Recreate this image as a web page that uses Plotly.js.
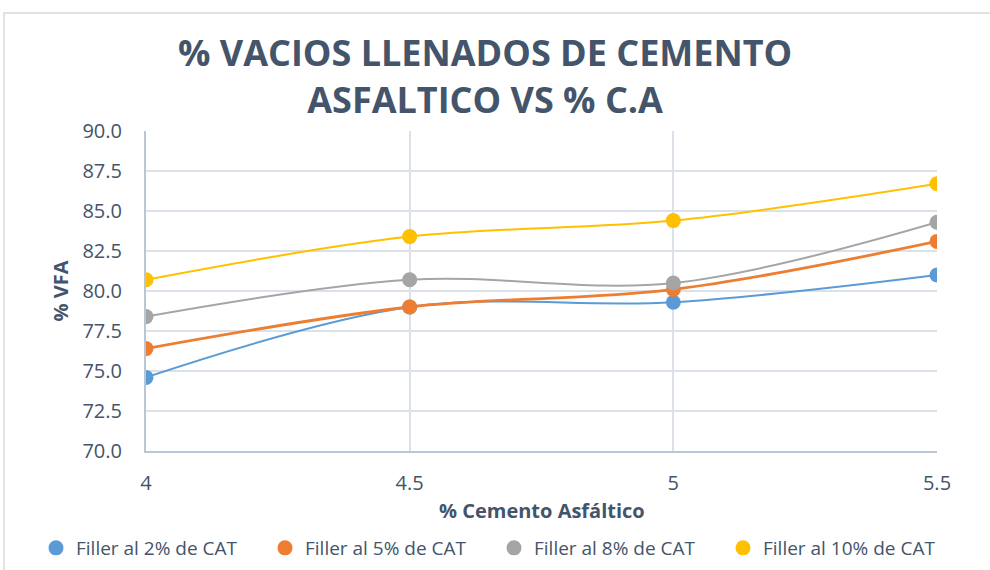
<!DOCTYPE html>
<html><head><meta charset="utf-8">
<script src="https://cdn.plot.ly/plotly-3.0.1.min.js"></script>
<style>html,body{margin:0;padding:0;background:#fff;}#chart{width:990px;height:570px;}</style>
</head><body><div id="chart"></div>
<script>
const xValues = [4, 4.5, 5, 5.5];
const seriesNames = ["Filler al 2% de CAT", "Filler al 5% de CAT", "Filler al 8% de CAT", "Filler al 10% de CAT"];
const filler2 = [74.6, 79.0, 79.3, 81.0];
const filler5 = [76.4, 79.0, 80.1, 83.1];
const filler8 = [78.4, 80.7, 80.5, 84.3];
const filler10 = [80.7, 83.4, 84.4, 86.7];
const seriesColors = ["#5B9BD5", "#ED7D31", "#A5A5A5", "#FFC000"];
const yTicks = [70, 72.5, 75, 77.5, 80, 82.5, 85, 87.5, 90];
const xTitle = '% Cemento Asfáltico';

const allY = [filler2, filler5, filler8, filler10];
const lineTraces = allY.map((ys, i) => ({
  x: xValues, y: ys, name: seriesNames[i], type: 'scatter', mode: 'lines', showlegend: false,
  line: {color: seriesColors[i], width: i === 1 ? 2.8 : 2, shape: 'spline', smoothing: 1}
}));
const markerTraces = allY.map((ys, i) => ({
  x: xValues, y: ys, name: seriesNames[i], type: 'scatter', mode: 'markers', showlegend: true,
  marker: {color: seriesColors[i], size: 15}
}));

const textColor = '#44546A';
const layout = {
  width: 990, height: 570,
  margin: {l: 146, r: 53, t: 131, b: 119, autoexpand: false},
  paper_bgcolor: '#fff', plot_bgcolor: '#fff',
  font: {family: 'Open Sans, sans-serif', color: textColor},
  title: {text: '% VACIOS LLENADOS DE CEMENTO<br>ASFALTICO VS % C.A', font: {size: 36, color: textColor, family: 'Open Sans, sans-serif', weight: 'bold'}, x: 0.49, xanchor: 'center', y: 1 - 66/570, yanchor: 'middle', yref: 'container'},
  xaxis: {range: [4, 5.5], tickvals: xValues, ticktext: xValues.map(String), showgrid: true, gridcolor: '#DCE1E9', gridwidth: 2, zeroline: false,
    showline: true, linecolor: '#BAC5D6', linewidth: 2, ticks: '', ticklabelstandoff: 13, tickfont: {size: 20, color: textColor}},
  yaxis: {range: [70, 90], tickvals: yTicks, ticktext: yTicks.map(v => v.toFixed(1)), showgrid: true, gridcolor: '#DCE1E9', gridwidth: 2, zeroline: false,
    showline: true, linecolor: '#BAC5D6', linewidth: 2, ticks: '', ticklabelstandoff: 18, tickfont: {size: 20, color: textColor},
    title: {text: '% VFA', font: {size: 20, color: textColor, weight: 'bold'}, standoff: 8}},
  annotations: [{text: '<b>' + xTitle + '</b>', xref: 'paper', x: 0.5, xanchor: 'center', yref: 'paper', y: (450 - 509) / 320, yanchor: 'middle', showarrow: false, font: {size: 20, color: textColor}}],
  showlegend: true,
  legend: {orientation: 'h', x: (36 - 146) / 791, xref: 'paper', xanchor: 'left', y: (450 - 547) / 320, yref: 'paper', yanchor: 'middle',
    font: {size: 19, color: textColor}, itemwidth: 30, entrywidth: 184, entrywidthmode: 'pixels', tracegroupgap: 0},
  shapes: [{type: 'rect', xref: 'paper', yref: 'paper', x0: -0.1795, x1: 1.2, y0: -0.5, y1: 1.369, line: {color: '#D9D9D9', width: 1.5}, fillcolor: 'rgba(0,0,0,0)', layer: 'below'}]
};
Plotly.newPlot('chart', lineTraces.concat(markerTraces), layout, {displayModeBar: false, staticPlot: true});
</script></body></html>
